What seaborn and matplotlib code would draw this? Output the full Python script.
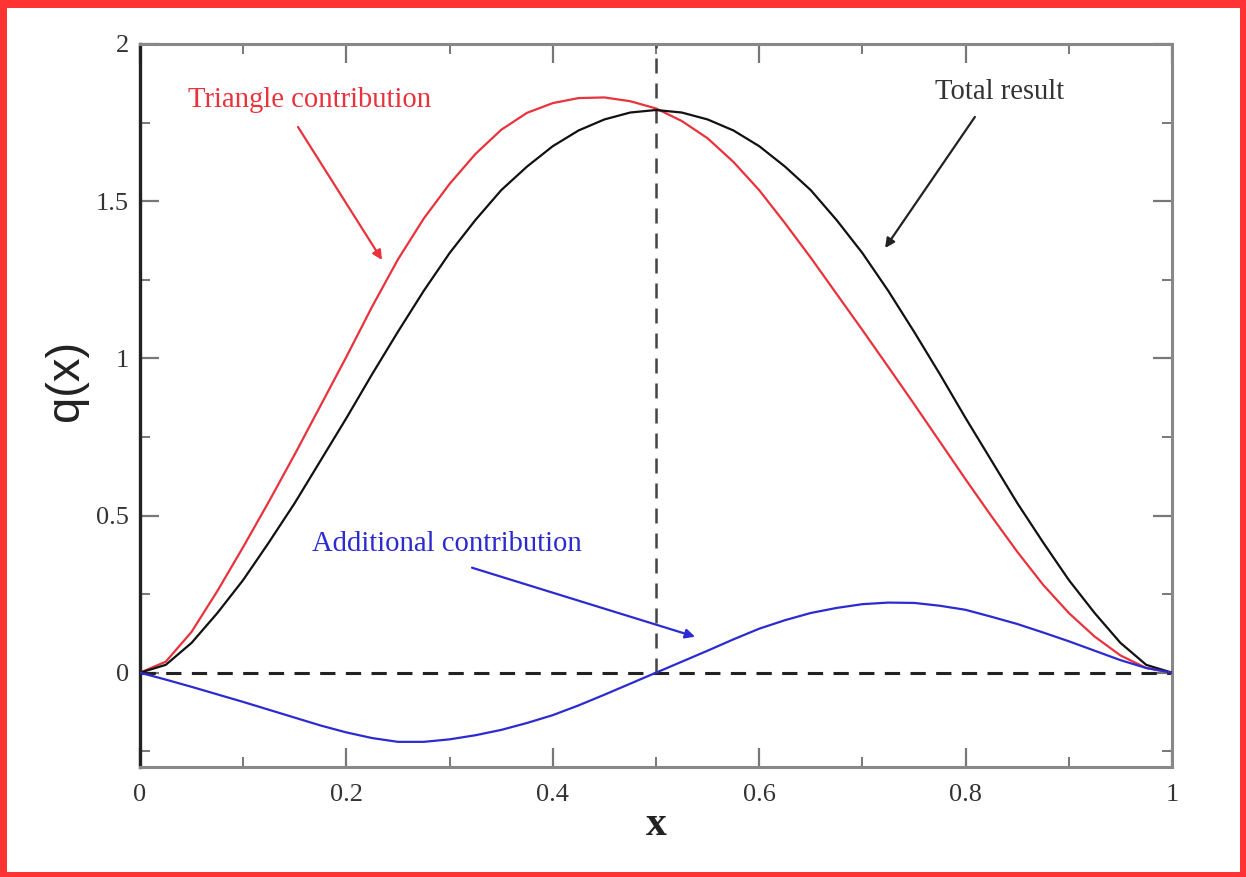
import numpy as np
import pandas as pd
import matplotlib
matplotlib.use("Agg")
import matplotlib.pyplot as plt
from matplotlib.patches import Rectangle
from matplotlib.ticker import MultipleLocator
import seaborn as sns

# Sample positions along x
x = [0.000, 0.025, 0.050, 0.075, 0.100, 0.125, 0.150, 0.175, 0.200, 0.225,
     0.250, 0.275, 0.300, 0.325, 0.350, 0.375, 0.400, 0.425, 0.450, 0.475,
     0.500, 0.525, 0.550, 0.575, 0.600, 0.625, 0.650, 0.675, 0.700, 0.725,
     0.750, 0.775, 0.800, 0.825, 0.850, 0.875, 0.900, 0.925, 0.950, 0.975, 1.000]

# q(x) series
total_result = [0.0, 0.025, 0.095, 0.19, 0.295, 0.415, 0.54, 0.675, 0.81, 0.95,
                1.085, 1.215, 1.335, 1.44, 1.535, 1.61, 1.675, 1.725, 1.76, 1.782,
                1.79, 1.782, 1.76, 1.725, 1.675, 1.61, 1.535, 1.44, 1.335, 1.215,
                1.085, 0.95, 0.81, 0.675, 0.54, 0.415, 0.295, 0.19, 0.095, 0.025, 0.0]
triangle = [0.0, 0.035, 0.13, 0.26, 0.40, 0.545, 0.695, 0.85, 1.005, 1.165,
            1.315, 1.445, 1.555, 1.65, 1.727, 1.781, 1.812, 1.828, 1.83, 1.818,
            1.795, 1.755, 1.70, 1.625, 1.535, 1.43, 1.32, 1.205, 1.09, 0.973,
            0.855, 0.735, 0.615, 0.498, 0.385, 0.28, 0.19, 0.115, 0.055, 0.015, 0.0]
additional = [0.0, -0.022, -0.045, -0.069, -0.093, -0.118, -0.143, -0.168, -0.19, -0.208,
              -0.22, -0.22, -0.212, -0.199, -0.182, -0.16, -0.135, -0.104, -0.07, -0.035,
              0.0, 0.035, 0.07, 0.106, 0.14, 0.167, 0.19, 0.206, 0.218, 0.223,
              0.222, 0.213, 0.20, 0.178, 0.155, 0.128, 0.10, 0.07, 0.04, 0.015, 0.0]

x_ticks = [0, 0.2, 0.4, 0.6, 0.8, 1]
x_tick_labels = ["0", "0.2", "0.4", "0.6", "0.8", "1"]
y_ticks = [0, 0.5, 1, 1.5, 2]
y_tick_labels = ["0", "0.5", "1", "1.5", "2"]

RED = "#e8323c"
BLACK = "#111111"
BLUE = "#2b2bd0"

sns.set_theme(style="ticks")
plt.rcParams["font.family"] = ["Liberation Serif", "DejaVu Serif"]

W, H, DPI = 1246, 877, 100
fig = plt.figure(figsize=(W / DPI, H / DPI), dpi=DPI)
fig.patch.set_facecolor("white")
ax = fig.add_axes([140 / W, 1 - 767 / H, (1172 - 140) / W, (767 - 44) / H])
ax.set_facecolor("white")

df = pd.DataFrame({"x": x, "total": total_result, "triangle": triangle, "additional": additional})

# Reference lines: zero level and the midpoint x = 0.5
ax.axhline(0, color="#222222", lw=2.2, dashes=(5, 3.4), zorder=1)
ax.plot([0.5, 0.5], [0, 2], color="#444444", lw=1.8, dashes=(6, 4), zorder=1)

sns.lineplot(data=df, x="x", y="triangle", color=RED, lw=1.6, ax=ax, zorder=3)
sns.lineplot(data=df, x="x", y="total", color=BLACK, lw=1.6, ax=ax, zorder=3)
sns.lineplot(data=df, x="x", y="additional", color=BLUE, lw=1.6, ax=ax, zorder=3)

ax.set_xlim(0, 1)
ax.set_ylim(-0.3, 2)
ax.set_xticks(x_ticks)
ax.set_xticklabels(x_tick_labels)
ax.set_yticks(y_ticks)
ax.set_yticklabels(y_tick_labels)
ax.xaxis.set_minor_locator(MultipleLocator(0.1))
ax.yaxis.set_minor_locator(MultipleLocator(0.25))

ax.tick_params(which="both", direction="in", top=True, right=True, colors="#777777",
               labelcolor="#333333", labelsize=19)
ax.tick_params(which="major", length=14, width=1.6)
ax.tick_params(which="minor", length=7, width=1.4)
ax.tick_params(axis="x", which="major", pad=12)
ax.tick_params(axis="y", which="major", pad=8)

for side in ["top", "right", "bottom"]:
    ax.spines[side].set_color("#888888")
    ax.spines[side].set_linewidth(2.2)
ax.spines["left"].set_color("#222222")
ax.spines["left"].set_linewidth(2.4)

ax.set_xlabel("x", fontsize=30, fontweight="bold", color="#222222", labelpad=0)
ax.set_ylabel("q(x)", fontsize=34, family=["Liberation Sans", "DejaVu Sans"],
              color="#222222")
ax.yaxis.set_label_coords(-0.050, 0.535)

# Annotations
ax.text(0.0465, 1.822, "Triangle contribution", color=RED, fontsize=20.6, va="center", ha="left")
ax.text(0.770, 1.847, "Total result", color="#333333", fontsize=20.6, va="center", ha="left")
ax.text(0.1667, 0.41, "Additional contribution", color=BLUE, fontsize=20.6, va="center", ha="left")

arrow_kw = dict(arrowstyle="-|>", mutation_scale=14, lw=1.6, shrinkA=0, shrinkB=0)
ax.annotate("", xy=(0.2345, 1.313), xytext=(0.1531, 1.736),
            arrowprops=dict(color=RED, **arrow_kw))
ax.annotate("", xy=(0.722, 1.351), xytext=(0.809, 1.768),
            arrowprops=dict(color="#222222", **arrow_kw))
ax.annotate("", xy=(0.5378, 0.1145), xytext=(0.3217, 0.334),
            arrowprops=dict(color=BLUE, **arrow_kw))

# Red frame around the figure
frame = "#ff3333"
for (x0, y0, w, h) in [(0, 0, 7, H), (0, 0, W, 8), (W - 6, 0, 6, H), (0, H - 5, W, 5)]:
    fig.patches.append(Rectangle((x0 / W, 1 - (y0 + h) / H), w / W, h / H,
                                 transform=fig.transFigure, facecolor=frame,
                                 edgecolor="none", zorder=10))

fig.savefig("out.png", dpi=DPI, facecolor="white")
